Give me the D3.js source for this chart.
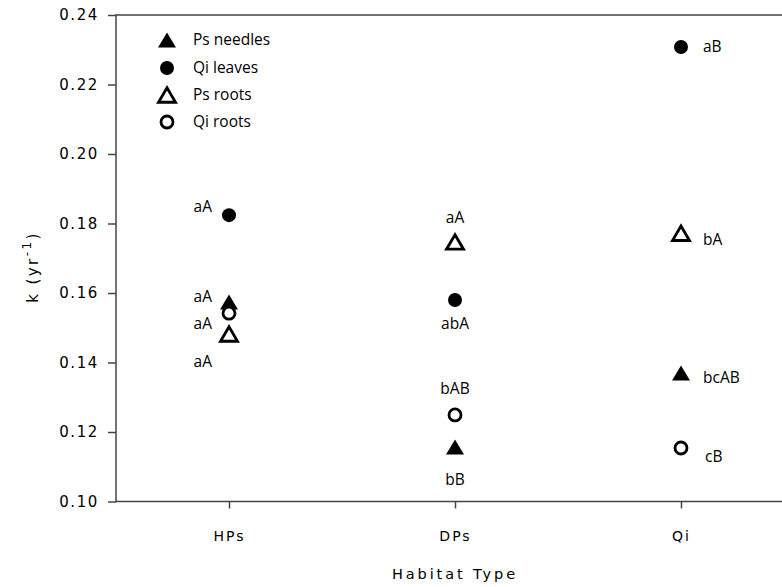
<!DOCTYPE html>
<html>
<head>
<meta charset="utf-8">
<script src="https://cdn.jsdelivr.net/npm/d3@7/dist/d3.min.js"></script>
<style>
  html, body { margin: 0; padding: 0; background: #fff; }
  svg { display: block; }
  .tick text { font-family: "DejaVu Sans", sans-serif; font-size: 15px; letter-spacing: 1.6px; fill: #000; }
  .lbl { font-family: "Open Sans", sans-serif; font-size: 15.5px; fill: #000; }
</style>
</head>
<body>
<svg id="chart" width="782" height="587"></svg>
<script>
// Decomposition rate constants by habitat type
const habitats = ["HPs", "DPs", "Qi"];
const seriesNames = ["Ps needles", "Qi leaves", "Ps roots", "Qi roots"];

const psNeedles = [0.1574, 0.1157, 0.1370];
const qiLeaves  = [0.1824, 0.1580, 0.2308];
const psRoots   = [0.1482, 0.1747, 0.1772];
const qiRoots   = [0.1542, 0.1249, 0.1154];

// Significance letters per series, per habitat
const psNeedlesLetters = ["aA", "bB", "bcAB"];
const qiLeavesLetters  = ["aA", "abA", "aB"];
const psRootsLetters   = ["aA", "aA", "bA"];
const qiRootsLetters   = ["aA", "bAB", "cB"];

const yTicks = [0.10, 0.12, 0.14, 0.16, 0.18, 0.20, 0.22, 0.24];

const values  = [psNeedles, qiLeaves, psRoots, qiRoots];
const letters = [psNeedlesLetters, qiLeavesLetters, psRootsLetters, qiRootsLetters];

// Marker look for each series
const markers = [
  { shape: "tri",    filled: true  },
  { shape: "circle", filled: true  },
  { shape: "tri",    filled: false },
  { shape: "circle", filled: false }
];

// Where each letter sits relative to its mark: [series][habitat] -> [dx, dy, anchor]
const letterPlace = [
  [[-17, -5, "end"],  [0, 33, "middle"],  [22, 5, "start"]],
  [[-17, -9, "end"],  [0, 24, "middle"],  [22, 0, "start"]],
  [[-17, 28, "end"],  [0, -24, "middle"], [22, 6, "start"]],
  [[-17, 10, "end"],  [0, -26, "middle"], [24, 9, "start"]]
];

const svg = d3.select("#chart");
const plotLeft = 116, plotTop = 15, plotBottom = 501.5, plotRight = 794;

const x = d3.scalePoint().domain(habitats).range([plotLeft, plotRight]).padding(0.5);
const y = d3.scaleLinear().domain([0.10, 0.24]).range([plotBottom, plotTop]);

const axisColor = "#444";

// Y axis
const yAxis = svg.append("g")
  .attr("transform", `translate(${plotLeft},0)`)
  .call(d3.axisLeft(y).tickValues(yTicks).tickFormat(d3.format(".2f")).tickSize(8).tickPadding(9));
yAxis.select(".domain").remove();
yAxis.selectAll(".tick line").attr("stroke", axisColor).attr("stroke-width", 1.5);

// X axis
const xAxis = svg.append("g")
  .attr("transform", `translate(0,${plotBottom})`)
  .call(d3.axisBottom(x).tickSize(7).tickPadding(23));
xAxis.select(".domain").remove();
xAxis.selectAll(".tick line").attr("stroke", axisColor).attr("stroke-width", 1.5);
xAxis.selectAll(".tick text").style("font-size", "14px").style("letter-spacing", "2px");

// Frame lines: left, bottom, top
svg.append("line").attr("x1", plotLeft).attr("x2", plotLeft).attr("y1", plotTop - 0.75).attr("y2", plotBottom + 0.75)
  .attr("stroke", axisColor).attr("stroke-width", 1.5);
svg.append("line").attr("x1", plotLeft).attr("x2", 782).attr("y1", plotBottom).attr("y2", plotBottom)
  .attr("stroke", axisColor).attr("stroke-width", 1.5);
svg.append("line").attr("x1", plotLeft).attr("x2", 782).attr("y1", plotTop).attr("y2", plotTop)
  .attr("stroke", axisColor).attr("stroke-width", 1.5);

// Axis titles
svg.append("text")
  .attr("x", x("DPs")).attr("y", 579)
  .attr("text-anchor", "middle")
  .style("font-family", "DejaVu Sans, sans-serif").style("font-size", "14.5px").style("letter-spacing", "2.9px")
  .attr("fill", "#000")
  .text("Habitat Type");

const yTitle = svg.append("text")
  .attr("transform", "translate(38,267) rotate(-90)")
  .attr("text-anchor", "middle")
  .style("font-family", "DejaVu Sans, sans-serif").style("font-size", "15px").style("letter-spacing", "2.4px")
  .attr("fill", "#000");
yTitle.append("tspan").text("k  (yr");
yTitle.append("tspan").attr("dy", -7).style("font-size", "12px").text("-1");
yTitle.append("tspan").attr("dy", 7).text(")");

// Marker drawing
function triPath(w, h) {
  return `M0,${-h / 2}L${w / 2},${h / 2}L${-w / 2},${h / 2}Z`;
}
function drawMarker(g, m) {
  if (m.shape === "tri") {
    if (m.filled) {
      g.append("path").attr("d", triPath(18, 15)).attr("fill", "#000");
    } else {
      g.append("path").attr("d", triPath(17, 14.5)).attr("fill", "#fff")
        .attr("stroke", "#000").attr("stroke-width", 2.8).attr("stroke-linejoin", "miter");
    }
  } else {
    if (m.filled) {
      g.append("circle").attr("r", 7).attr("fill", "#000");
    } else {
      g.append("circle").attr("r", 6).attr("fill", "#fff")
        .attr("stroke", "#000").attr("stroke-width", 2.8);
    }
  }
}

// Points (filled marks first, open marks on top)
const drawOrder = [1, 0, 3, 2];
drawOrder.forEach(si => {
  habitats.forEach((h, hi) => {
    const g = svg.append("g").attr("transform", `translate(${x(h)},${y(values[si][hi])})`);
    drawMarker(g, markers[si]);
  });
});

// Letters beside the points
values.forEach((vals, si) => {
  habitats.forEach((h, hi) => {
    const p = letterPlace[si][hi];
    svg.append("text").attr("class", "lbl")
      .attr("x", x(h) + p[0]).attr("y", y(vals[hi]) + p[1])
      .attr("dy", "0.35em")
      .attr("text-anchor", p[2])
      .text(letters[si][hi]);
  });
});

// Legend
const legend = svg.append("g");
const legendY = [40, 68, 95, 122];
seriesNames.forEach((name, i) => {
  const g = legend.append("g").attr("transform", `translate(167,${legendY[i]})`);
  drawMarker(g, markers[i]);
  legend.append("text").attr("class", "lbl")
    .attr("x", 193).attr("y", legendY[i]).attr("dy", "0.35em")
    .text(name);
});
</script>
</body>
</html>
